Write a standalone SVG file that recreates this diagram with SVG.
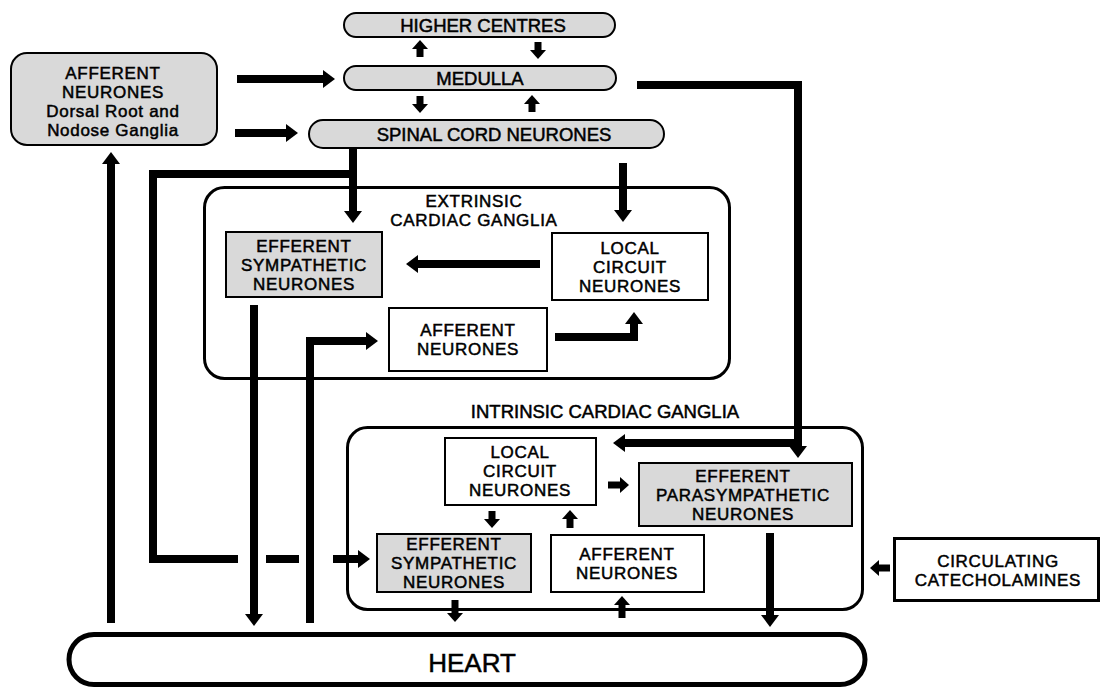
<svg xmlns="http://www.w3.org/2000/svg" width="1102" height="690" viewBox="0 0 1102 690">
<defs>
<style>
.t{font-family:"Liberation Sans",Arial,Helvetica,sans-serif;font-size:18.5px;text-anchor:middle;fill:#000;stroke:#000;stroke-width:0.5px}
.m{font-size:17px;letter-spacing:0.7px}
.big{font-size:26px}
.sh{fill:#d9d9d9;stroke:#000;stroke-width:2}
.wb{fill:#fff;stroke:#000;stroke-width:2}
.gang{fill:none;stroke:#000;stroke-width:3}
.heart{fill:#fff;stroke:#000;stroke-width:5}
.c{fill:none;stroke:#000;stroke-width:8;stroke-linejoin:miter}
.cs{fill:none;stroke:#000;stroke-width:7}
</style>
<marker id="ah" markerUnits="userSpaceOnUse" markerWidth="12" markerHeight="20" refX="0" refY="10" orient="auto"><path d="M0,1 L12,10 L0,19 z" fill="#000"/></marker>
<marker id="as" markerUnits="userSpaceOnUse" markerWidth="9" markerHeight="18" refX="0" refY="9" orient="auto"><path d="M0,1 L9,9 L0,17 z" fill="#000"/></marker>
</defs>
<rect width="1102" height="690" fill="#fff"/>

<g id="extrinsic-ganglia">
<rect class="gang" x="204.5" y="187.5" width="525" height="191" rx="20"/>
<text class="t m" x="474" y="207"><tspan x="474">EXTRINSIC</tspan><tspan x="474" dy="19">CARDIAC GANGLIA</tspan></text>
</g>
<g id="intrinsic-ganglia">
<rect class="gang" x="347.5" y="427.5" width="515" height="182" rx="20"/>
<text class="t" x="605" y="418">INTRINSIC CARDIAC GANGLIA</text>
</g>

<g id="higher-centres">
<rect class="sh" x="344" y="13" width="271" height="24" rx="12"/>
<text class="t" x="483" y="32">HIGHER CENTRES</text>
</g>
<g id="medulla">
<rect class="sh" x="344" y="66" width="272" height="24" rx="12"/>
<text class="t" x="480" y="85">MEDULLA</text>
</g>
<g id="spinal-cord">
<rect class="sh" x="309" y="120" width="355" height="28" rx="14"/>
<text class="t" x="494" y="141">SPINAL CORD NEURONES</text>
</g>
<g id="afferent-ganglia">
<rect class="sh" x="11" y="53" width="206" height="92" rx="16"/>
<text class="t m" x="113" y="79"><tspan x="113">AFFERENT</tspan><tspan x="113" dy="19">NEURONES</tspan><tspan x="113" dy="19">Dorsal Root and</tspan><tspan x="113" dy="19">Nodose Ganglia</tspan></text>
</g>

<g id="ext-efferent-sympathetic">
<rect class="sh" x="226" y="232" width="156" height="65"/>
<text class="t m" x="304" y="252"><tspan x="304">EFFERENT</tspan><tspan x="304" dy="19">SYMPATHETIC</tspan><tspan x="304" dy="19">NEURONES</tspan></text>
</g>
<g id="ext-local-circuit">
<rect class="wb" x="552" y="233" width="156" height="67"/>
<text class="t m" x="630" y="254"><tspan x="630">LOCAL</tspan><tspan x="630" dy="19">CIRCUIT</tspan><tspan x="630" dy="19">NEURONES</tspan></text>
</g>
<g id="ext-afferent">
<rect class="wb" x="389" y="308" width="158" height="63"/>
<text class="t m" x="468" y="336"><tspan x="468">AFFERENT</tspan><tspan x="468" dy="19">NEURONES</tspan></text>
</g>

<g id="int-local-circuit">
<rect class="wb" x="445" y="438" width="151" height="67"/>
<text class="t m" x="520" y="458"><tspan x="520">LOCAL</tspan><tspan x="520" dy="19">CIRCUIT</tspan><tspan x="520" dy="19">NEURONES</tspan></text>
</g>
<g id="int-efferent-parasympathetic">
<rect class="sh" x="639" y="463" width="213" height="63"/>
<text class="t m" x="743" y="482"><tspan x="743">EFFERENT</tspan><tspan x="743" dy="19">PARASYMPATHETIC</tspan><tspan x="743" dy="19">NEURONES</tspan></text>
</g>
<g id="int-efferent-sympathetic">
<rect class="sh" x="377" y="534" width="154" height="58"/>
<text class="t m" x="454" y="550"><tspan x="454">EFFERENT</tspan><tspan x="454" dy="19">SYMPATHETIC</tspan><tspan x="454" dy="19">NEURONES</tspan></text>
</g>
<g id="int-afferent">
<rect class="wb" x="551" y="535" width="153" height="57"/>
<text class="t m" x="627" y="560"><tspan x="627">AFFERENT</tspan><tspan x="627" dy="19">NEURONES</tspan></text>
</g>

<g id="circulating-catecholamines">
<rect x="894.5" y="538.5" width="204" height="62" fill="#fff" stroke="#000" stroke-width="3"/>
<text class="t m" x="998" y="567"><tspan x="998">CIRCULATING</tspan><tspan x="998" dy="19">CATECHOLAMINES</tspan></text>
</g>

<g id="heart">
<rect class="heart" x="69" y="634.5" width="796" height="50" rx="25"/>
<text class="t big" x="472" y="672">HEART</text>
</g>

<g id="connectors">
<path class="c" d="M237,79 H323" marker-end="url(#ah)"/>
<path class="c" d="M235,133 H286" marker-end="url(#ah)"/>
<path class="cs" d="M420,57 V49" marker-end="url(#as)"/>
<path class="cs" d="M538,42 V50" marker-end="url(#as)"/>
<path class="cs" d="M420,96 V104" marker-end="url(#as)"/>
<path class="cs" d="M532,112 V104" marker-end="url(#as)"/>
<path class="c" d="M637,85 H798 V446" marker-end="url(#ah)"/>
<path class="c" d="M798,443 H625" marker-end="url(#ah)"/>
<path class="c" d="M353,149 V211" marker-end="url(#ah)"/>
<path class="c" d="M353,174 H153 V559 H238"/>
<path class="c" d="M266,559 H299"/>
<path class="c" d="M333,559 H358" marker-end="url(#ah)"/>
<path class="c" d="M623,163 V210" marker-end="url(#ah)"/>
<path class="c" d="M540,264 H418" marker-end="url(#ah)"/>
<path class="c" d="M555,337 H634 V324" marker-end="url(#ah)"/>
<path class="c" d="M254,305 V614" marker-end="url(#ah)"/>
<path class="c" d="M310,623 V341 H366" marker-end="url(#ah)"/>
<path class="c" d="M111,623 V164" marker-end="url(#ah)"/>
<path class="cs" d="M492,511 V519" marker-end="url(#as)"/>
<path class="cs" d="M570,528 V519" marker-end="url(#as)"/>
<path class="cs" d="M608,485 H620" marker-end="url(#as)"/>
<path class="cs" d="M455,600 V613" marker-end="url(#as)"/>
<path class="cs" d="M622,618 V605" marker-end="url(#as)"/>
<path class="c" d="M770,533 V615" marker-end="url(#ah)"/>
<path class="cs" d="M890,568 H879" marker-end="url(#as)"/>
</g>
</svg>
